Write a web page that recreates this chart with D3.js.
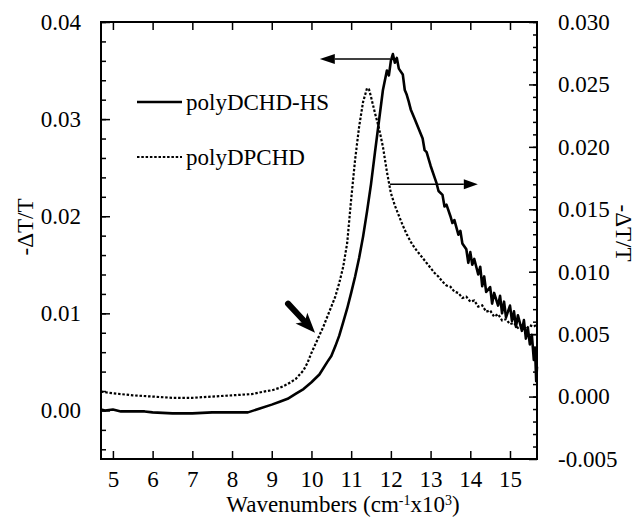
<!DOCTYPE html>
<html>
<head>
<meta charset="utf-8">
<style>
    body { margin: 0; padding: 0; background: #fff; }
    svg { display: block; }
    text { font-family: "Liberation Serif", "Times New Roman", serif; fill: #000; }
    .tick-label { font-size: 23px; }
    .title { font-size: 23px; }
</style>
</head>
<body>
<div id="chart"></div>
<script src="https://cdn.jsdelivr.net/npm/d3@7"></script>
<script>
// wavenumber (cm-1 x10^3) and -dT/T
var hsWave = [4.70, 4.80, 5.00, 5.20, 5.50, 5.80, 6.00, 6.50, 7.00, 7.50, 8.00, 8.40, 8.70, 9.00, 9.20, 9.40, 9.60, 9.80, 10.00, 10.20,
    10.40, 10.50, 10.60, 10.70, 10.80, 10.90, 11.00, 11.10, 11.20, 11.30, 11.40, 11.50, 11.60, 11.70, 11.80, 11.90, 11.95, 12.00, 12.05, 12.10,
    12.15, 12.20, 12.30, 12.35, 12.40, 12.45, 12.50, 12.60, 12.70, 12.80, 12.85, 12.90, 13.00, 13.10, 13.15, 13.20, 13.30, 13.35, 13.40, 13.50,
    13.55, 13.60, 13.70, 13.75, 13.80, 13.90, 13.95, 14.00, 14.05, 14.10, 14.20, 14.25, 14.30, 14.35, 14.40, 14.50, 14.55, 14.60, 14.70, 14.75,
    14.80, 14.85, 14.90, 15.00, 15.05, 15.10, 15.15, 15.20, 15.30, 15.35, 15.40, 15.45, 15.50, 15.55, 15.60, 15.63, 15.66, 15.68];
var hsValue = [0.0001, 0.0000, 0.0001, -0.0001, -0.0001, -0.0001, -0.0002, -0.0003, -0.0003, -0.0002, -0.0002, -0.0002, 0.0002, 0.0006, 0.0009, 0.0012, 0.0017, 0.0022, 0.0029, 0.0037,
    0.0050, 0.0056, 0.0066, 0.0077, 0.0091, 0.0105, 0.0121, 0.0138, 0.0157, 0.0179, 0.0205, 0.0233, 0.0266, 0.0298, 0.0330, 0.0350, 0.0345, 0.0360, 0.0367, 0.0358,
    0.0363, 0.0352, 0.0346, 0.0330, 0.0325, 0.0318, 0.0310, 0.0300, 0.0290, 0.0280, 0.0268, 0.0266, 0.0252, 0.0240, 0.0234, 0.0226, 0.0222, 0.0210, 0.0212, 0.0200,
    0.0193, 0.0196, 0.0181, 0.0185, 0.0172, 0.0166, 0.0152, 0.0163, 0.0150, 0.0156, 0.0140, 0.0148, 0.0128, 0.0138, 0.0122, 0.0127, 0.0110, 0.0121, 0.0108, 0.0118,
    0.0100, 0.0112, 0.0096, 0.0108, 0.0092, 0.0102, 0.0086, 0.0098, 0.0082, 0.0093, 0.0074, 0.0085, 0.0068, 0.0078, 0.0052, 0.0064, 0.0030, 0.0045];

var dpWave = [4.70, 4.90, 5.20, 5.50, 6.00, 6.50, 7.00, 7.50, 8.00, 8.50, 8.80, 9.00, 9.20, 9.40, 9.60, 9.80, 9.90, 10.00, 10.10, 10.20,
    10.30, 10.40, 10.50, 10.60, 10.70, 10.80, 10.90, 11.00, 11.10, 11.20, 11.30, 11.40, 11.45, 11.50, 11.60, 11.70, 11.80, 11.90, 12.00, 12.10,
    12.20, 12.30, 12.40, 12.50, 12.60, 12.70, 12.80, 12.90, 13.00, 13.10, 13.20, 13.30, 13.40, 13.50, 13.60, 13.70, 13.80, 13.90, 14.00, 14.10,
    14.20, 14.30, 14.40, 14.50, 14.60, 14.70, 14.80, 14.90, 15.00, 15.10, 15.20, 15.30, 15.40, 15.50, 15.60, 15.68];
var dpValue = [0.0004, 0.0003, 0.0002, 0.0001, 0.0000, -0.0001, -0.0001, 0.0000, 0.0001, 0.0002, 0.0004, 0.0005, 0.0007, 0.0010, 0.0014, 0.0021, 0.0027, 0.0035, 0.0042, 0.0049,
    0.0056, 0.0064, 0.0072, 0.0080, 0.0091, 0.0104, 0.0123, 0.0158, 0.0190, 0.0216, 0.0236, 0.0247, 0.0246, 0.0240, 0.0227, 0.0215, 0.0200, 0.0180, 0.0163, 0.0153,
    0.0145, 0.0137, 0.0130, 0.0124, 0.0119, 0.0115, 0.0111, 0.0107, 0.0103, 0.0099, 0.0096, 0.0092, 0.0089, 0.0088, 0.0084, 0.0083, 0.0079, 0.0080, 0.0076, 0.0077,
    0.0072, 0.0073, 0.0068, 0.0069, 0.0064, 0.0066, 0.0061, 0.0062, 0.0058, 0.0059, 0.0055, 0.0057, 0.0054, 0.0057, 0.0056, 0.0058];

var xTicks = [5, 6, 7, 8, 9, 10, 11, 12, 13, 14, 15];
var leftTicks = [0.00, 0.01, 0.02, 0.03, 0.04];
var rightTicks = [-0.005, 0.000, 0.005, 0.010, 0.015, 0.020, 0.025, 0.030];
var seriesNames = ["polyDCHD-HS", "polyDPCHD"];

var width = 636, height = 524;
var margin = { top: 22, right: 99, bottom: 65, left: 101 };

var svg = d3.select("#chart").append("svg")
    .attr("width", width)
    .attr("height", height);

var x = d3.scaleLinear().domain([4.7, 15.68]).range([margin.left, width - margin.right]);
var yL = d3.scaleLinear().domain([-0.005, 0.04]).range([height - margin.bottom, margin.top]);
var yR = d3.scaleLinear().domain([-0.005, 0.030]).range([height - margin.bottom, margin.top]);

var x0 = margin.left, x1 = width - margin.right;
var y0 = height - margin.bottom, y1 = margin.top;

// curves
var lineL = d3.line().x(d => x(d[0])).y(d => yL(d[1]));
var lineR = d3.line().x(d => x(d[0])).y(d => yR(d[1]));

svg.append("path")
    .datum(d3.zip(dpWave, dpValue))
    .attr("d", lineR)
    .attr("fill", "none")
    .attr("stroke", "#000")
    .attr("stroke-width", 2.2)
    .attr("stroke-dasharray", "2.5,1.8");

svg.append("path")
    .datum(d3.zip(hsWave, hsValue))
    .attr("d", lineL)
    .attr("fill", "none")
    .attr("stroke", "#000")
    .attr("stroke-width", 2.6)
    .attr("stroke-linejoin", "round");

// axes (ticks inside)
var minorL = d3.range(-0.004, 0.0401, 0.002);
var minorR = d3.range(-0.004, 0.0301, 0.001);

svg.append("g").attr("transform", "translate(0," + y0 + ")")
    .call(d3.axisBottom(x).tickValues(xTicks).tickSize(-8).tickPadding(12).tickFormat(d3.format("d")))
    .call(g => g.select(".domain").remove());
svg.append("g").attr("transform", "translate(0," + y1 + ")")
    .call(d3.axisTop(x).tickValues(xTicks).tickSize(-8).tickFormat(""))
    .call(g => g.select(".domain").remove());

svg.append("g").attr("transform", "translate(" + x0 + ",0)")
    .call(d3.axisLeft(yL).tickValues(minorL).tickSize(-5).tickFormat(""))
    .call(g => g.select(".domain").remove());
svg.append("g").attr("transform", "translate(" + x0 + ",0)")
    .call(d3.axisLeft(yL).tickValues(leftTicks).tickSize(-9).tickPadding(20).tickFormat(d => d.toFixed(2)))
    .call(g => g.select(".domain").remove());

svg.append("g").attr("transform", "translate(" + x1 + ",0)")
    .call(d3.axisRight(yR).tickValues(minorR).tickSize(-4).tickFormat(""))
    .call(g => g.select(".domain").remove());
svg.append("g").attr("transform", "translate(" + x1 + ",0)")
    .call(d3.axisRight(yR).tickValues(rightTicks).tickSize(-8).tickPadding(21).tickFormat(d => d.toFixed(3)))
    .call(g => g.select(".domain").remove());

svg.selectAll(".tick line").attr("stroke", "#000").attr("stroke-width", 1.5);
svg.selectAll(".tick text")
    .attr("class", "tick-label")
    .attr("font-family", null)
    .attr("font-size", null);

svg.append("rect")
    .attr("x", x0).attr("y", y1)
    .attr("width", x1 - x0).attr("height", y0 - y1)
    .attr("fill", "none")
    .attr("stroke", "#000")
    .attr("stroke-width", 2);

// axis titles
var xt = svg.append("text").attr("class", "title")
    .attr("x", 343).attr("y", 512)
    .attr("text-anchor", "middle");
xt.append("tspan").text("Wavenumbers (cm");
xt.append("tspan").attr("dy", -7).attr("font-size", 14).text("-1");
xt.append("tspan").attr("dy", 7).text("x10");
xt.append("tspan").attr("dy", -7).attr("font-size", 14).text("3");
xt.append("tspan").attr("dy", 7).text(")");

svg.append("text").attr("class", "title")
    .attr("transform", "translate(33,227) rotate(-90)")
    .attr("text-anchor", "middle")
    .text("-\u0394T/T");
svg.append("text").attr("class", "title")
    .attr("transform", "translate(616,233) rotate(90)")
    .attr("text-anchor", "middle")
    .text("-\u0394T/T");

// legend
var legend = svg.append("g");
legend.append("line").attr("x1", 137).attr("x2", 182).attr("y1", 102).attr("y2", 102)
    .attr("stroke", "#000").attr("stroke-width", 2.6);
legend.append("text").attr("class", "title").attr("x", 186).attr("y", 110).text(seriesNames[0]);
legend.append("line").attr("x1", 137).attr("x2", 182).attr("y1", 157).attr("y2", 157)
    .attr("stroke", "#000").attr("stroke-width", 2.2).attr("stroke-dasharray", "2.5,1.8");
legend.append("text").attr("class", "title").attr("x", 186).attr("y", 165).text(seriesNames[1]);

// annotation arrows
function thinArrow(xa, ya, xb, yb, headLen, headW) {
    var dx = xb - xa, dy = yb - ya, L = Math.hypot(dx, dy);
    var ux = dx / L, uy = dy / L;
    var bx = xb - ux * headLen, by = yb - uy * headLen;
    svg.append("line").attr("x1", xa).attr("y1", ya).attr("x2", bx).attr("y2", by)
        .attr("stroke", "#000").attr("stroke-width", 1.5);
    svg.append("polygon")
        .attr("points", [[xb, yb], [bx - uy * headW / 2, by + ux * headW / 2], [bx + uy * headW / 2, by - ux * headW / 2]].join(" "))
        .attr("fill", "#000");
}
thinArrow(x(11.98), yL(0.0362), x(10.21), yL(0.0362), 15, 10);
thinArrow(x(11.98), yR(0.0170), x(14.19), yR(0.0170), 14, 10);

// thick arrow pointing at the dotted shoulder
(function () {
    var xa = x(9.41), ya = yL(0.0110), xb = x(10.09), yb = yL(0.0080);
    var dx = xb - xa, dy = yb - ya, L = Math.hypot(dx, dy);
    var ux = dx / L, uy = dy / L;
    var bx = xb - ux * 17, by = yb - uy * 17;
    svg.append("line").attr("x1", xa).attr("y1", ya).attr("x2", bx).attr("y2", by)
        .attr("stroke", "#000").attr("stroke-width", 6).attr("stroke-linecap", "round");
    svg.append("polygon")
        .attr("points", [[xb, yb], [bx - uy * 8 - ux * 3, by + ux * 8 - uy * 3], [bx + ux * 2, by + uy * 2], [bx + uy * 8 - ux * 3, by - ux * 8 - uy * 3]].join(" "))
        .attr("fill", "#000");
})();
</script>
</body>
</html>
